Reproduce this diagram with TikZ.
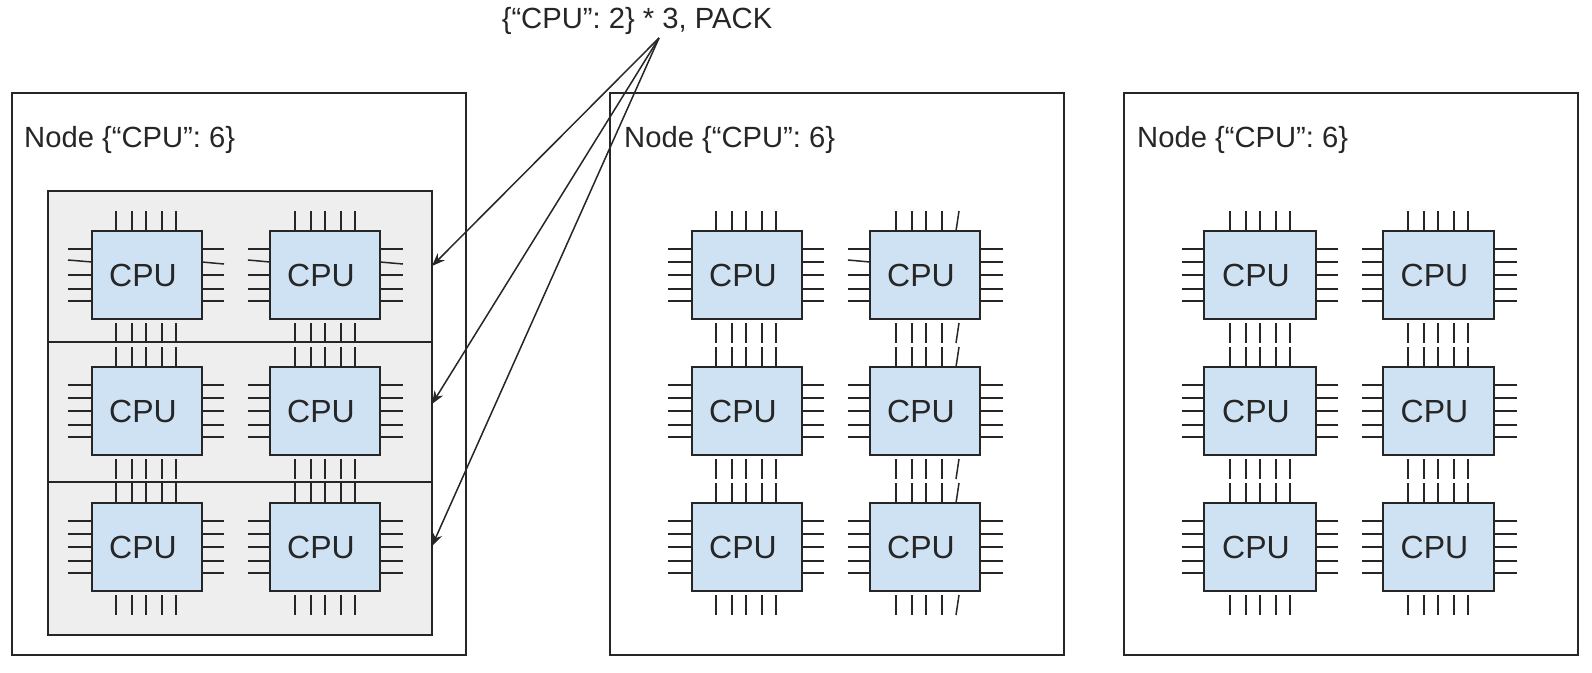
\documentclass[tikz,border=0pt]{standalone}
\usepackage{fontspec}
\setmainfont{Liberation Sans}
\usetikzlibrary{arrows.meta}
\tikzset{
  x=1pt,y=-1pt,
  ink/.style={line width=1.5pt,draw=black!85},
  hostbox/.style={ink,fill=white,rectangle,inner sep=0pt,minimum width=454pt,minimum height=562pt},
  rowbox/.style={ink,fill=black!6.5,rectangle,inner sep=0pt,minimum width=384pt},
  cpubox/.style={ink,fill=cpublue,rectangle,inner sep=0pt,minimum height=88pt,font=\fontsize{32}{32}\selectfont,text=black!85},
  lab/.style={inner sep=0pt,anchor=west,font=\fontsize{29.2}{29.2}\selectfont,text=black!85},
  pinline/.style={ink,line cap=butt},
  arrowline/.style={line width=1.5pt,draw=black!85,-{Stealth[length=13pt,width=10pt]}}
}
\definecolor{cpublue}{HTML}{CFE2F3}
\newcommand{\pinlens}[2]{\def\leftlen{#1}\def\rightlen{#2}}
% name, left x, top y, chip width, far-end shift: left pin 2, right pin 2, top pin 5, bottom pin 5, shift of top/bottom pins
\newcommand{\chipat}[9]{%
  \node[cpubox,minimum width=#4 pt] (#1) at (#2+#4/2,#3+44) {CPU\kern8pt};
  \foreach \o/\d in {18/0,31/#5,44/0,58/0,70/0}{%
    \draw[pinline] (#2,#3+\o) -- (#2-\leftlen,#3+\o+\d);
  }
  \foreach \o/\d in {18/0,31/#6,44/0,58/0,70/0}{%
    \draw[pinline] (#2+#4,#3+\o) -- (#2+#4+\rightlen,#3+\o+\d);
  }
  \foreach \o/\d in {24/0,40/0,54/0,70/0,84/#7}{%
    \draw[pinline] (#2+\o+#9,#3) -- (#2+\o+#9+\d,#3-20);
  }
  \foreach \o/\d in {24/0,40/0,54/0,70/0,84/#8}{%
    \draw[pinline] (#2+\o+#9+\d,#3+92) -- (#2+\o+#9,#3+112);
  }
}
\begin{document}
\begin{tikzpicture}
\useasboundingbox (0,0) rectangle (1592,672);
\fill[white] (0,0) rectangle (1592,672);
\node[hostbox] (h1) at (239,374) {};
\node[hostbox] (h2) at (837,374) {};
\node[hostbox] (h3) at (1351,374) {};
\node[lab] (l1) at (24,140) {Node \{“CPU”: 6\}};
\node[lab] (l2) at (624,140) {Node \{“CPU”: 6\}};
\node[lab] (l3) at (1137,140) {Node \{“CPU”: 6\}};
\node[rowbox,minimum height=151pt] (g1) at (240,266.5) {};
\node[rowbox,minimum height=140pt] (g2) at (240,412) {};
\node[rowbox,minimum height=153pt] (g3) at (240,558.5) {};
% node 1
\pinlens{24}{22}
\chipat{a1}{92}{231}{110}{-2}{2}{0}{0}{0}
\chipat{a3}{92}{367}{110}{0}{0}{0}{0}{0}
\chipat{a5}{92}{503}{110}{0}{0}{0}{0}{0}
\pinlens{22}{23}
\chipat{a2}{270}{231}{110}{-2}{2}{0}{0}{1}
\chipat{a4}{270}{367}{110}{0}{0}{0}{0}{1}
\chipat{a6}{270}{503}{110}{0}{0}{0}{0}{1}
% node 2
\pinlens{24}{22}
\chipat{b1}{692}{231}{110}{0}{0}{0}{0}{0}
\chipat{b3}{692}{367}{110}{0}{0}{0}{0}{0}
\chipat{b5}{692}{503}{110}{0}{0}{0}{0}{0}
\pinlens{22}{23}
\chipat{b2}{870}{231}{110}{-2}{0}{3}{3}{2}
\chipat{b4}{870}{367}{110}{0}{0}{3}{3}{2}
\chipat{b6}{870}{503}{110}{0}{0}{3}{3}{2}
% node 3
\pinlens{22}{22}
\chipat{c1}{1204}{231}{112}{0}{0}{0}{0}{2}
\chipat{c3}{1204}{367}{112}{0}{0}{0}{0}{2}
\chipat{c5}{1204}{503}{112}{0}{0}{0}{0}{2}
\pinlens{21}{23}
\chipat{c2}{1383}{231}{111}{0}{0}{0}{0}{1}
\chipat{c4}{1383}{367}{111}{0}{0}{0}{0}{1}
\chipat{c6}{1383}{503}{111}{0}{0}{0}{0}{1}
\node[inner sep=0pt,font=\fontsize{29.2}{29.2}\selectfont,text=black!85] (req) at (637,21) {\{“CPU”: 2\} * 3, PACK};
\coordinate (apex) at (659,38);
\coordinate (t1) at (432,266);
\coordinate (t2) at (432,404);
\coordinate (t3) at (432,546);
\draw[arrowline] (apex) -- (t1);
\draw[arrowline] (apex) -- (t2);
\draw[arrowline] (apex) -- (t3);
\end{tikzpicture}
\end{document}
